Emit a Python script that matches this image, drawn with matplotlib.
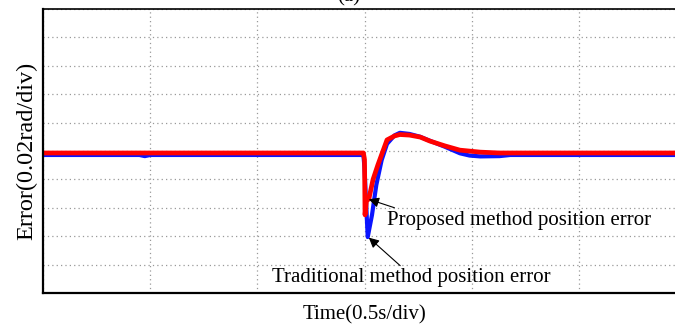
import matplotlib
matplotlib.use("Agg")
import matplotlib.pyplot as plt

# time in divisions (0.5 s/div), error in divisions (0.02 rad/div)
t_trad = [0.0, 0.9, 0.95, 1.0, 2.99, 3.0, 3.03, 3.07, 3.11, 3.16, 3.21, 3.28,
          3.33, 3.42, 3.52, 3.61, 3.75, 3.89, 3.98, 4.08, 4.26, 4.36, 6.0]
e_trad = [4.86, 4.86, 4.82, 4.86, 4.86, 4.4, 1.97, 2.75, 3.8, 4.68, 5.25, 5.55,
          5.64, 5.6, 5.5, 5.36, 5.15, 4.92, 4.84, 4.81, 4.82, 4.86, 4.86]

t_prop = [0.0, 2.99, 3.0, 3.005, 3.02, 3.04, 3.08, 3.125, 3.21, 3.28, 3.33,
          3.42, 3.52, 3.61, 3.75, 3.89, 4.08, 4.26, 6.0]
e_prop = [4.93, 4.93, 4.7, 2.75, 3.3, 3.3, 4.0, 4.51, 5.39, 5.53, 5.58,
          5.56, 5.49, 5.35, 5.18, 5.03, 4.96, 4.93, 4.93]

plt.rcParams['font.family'] = ['Liberation Serif', 'DejaVu Serif']

fig = plt.figure(figsize=(6.75, 3.29), dpi=100)
ax = fig.add_axes([43 / 675, 36 / 329, 643 / 675, 284 / 329])

ax.plot(t_trad, e_trad, color="#0a14ff", lw=3.0, solid_joinstyle="round")
ax.plot(t_prop, e_prop, color="#ff0000", lw=3.4, solid_joinstyle="round")

ax.set_xlim(0, 6)
ax.set_ylim(0, 10)
ax.set_xticks(range(7))
ax.set_yticks(range(11))
ax.tick_params(length=0, labelbottom=False, labelleft=False)
ax.grid(True, color="#999999", linestyle=(0, (1, 2.5)), lw=0.9)
for s in ["left", "bottom"]:
    ax.spines[s].set_linewidth(1.6)
ax.spines["top"].set_linewidth(1.2)
ax.spines["right"].set_visible(False)

ax.set_xlabel("Time(0.5s/div)", fontsize=15, labelpad=9)
ax.set_ylabel("Error(0.02rad/div)", fontsize=17.5, labelpad=4)

ax.annotate("Proposed method position error", xy=(3.04, 3.3), xytext=(3.21, 2.57),
            fontsize=15, va="center", ha="left",
            arrowprops=dict(arrowstyle="-|>", color="black", lw=0.8, shrinkA=0, shrinkB=0,
                            relpos=(0.06, 1.0)))
ax.annotate("Traditional method position error", xy=(3.04, 1.95), xytext=(2.14, 0.53),
            fontsize=15, va="center", ha="left",
            arrowprops=dict(arrowstyle="-|>", color="black", lw=0.8, shrinkA=0, shrinkB=0,
                            relpos=(0.47, 1.0)))

fig.text(0.517, 0.995, "(a)", fontsize=15, ha="center", va="baseline")

fig.savefig("out.png", dpi=100)
